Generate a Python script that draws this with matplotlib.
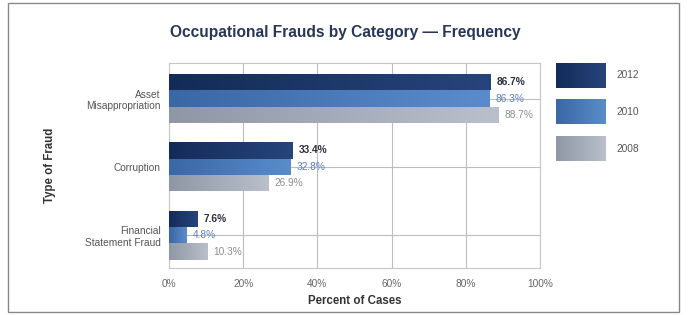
import matplotlib
matplotlib.use('Agg')
from matplotlib import pyplot as plt
from matplotlib.patches import Rectangle
from matplotlib.colors import LinearSegmentedColormap
import numpy as np

# data
categories = ['Asset\nMisappropriation', 'Corruption', 'Financial\nStatement Fraud']
years = ['2012', '2010', '2008']
vals_2012 = [86.7, 33.4, 7.6]
vals_2010 = [86.3, 32.8, 4.8]
vals_2008 = [88.7, 26.9, 10.3]
xticks = [0, 20, 40, 60, 80, 100]

series = [vals_2012, vals_2010, vals_2008]
# left / right colours of the gradient fill
grad_colors = [('#142b58', '#26457c'), ('#3a67a6', '#5a8ccb'), ('#8f97a6', '#b9c0cb')]
bar_colors = ['#1c3768', '#4a79b6', '#a2aab7']
text_colors = ['#2a2f3f', '#5a7cbc', '#8c8c8c']
text_weights = ['bold', 'normal', 'normal']

plt.rcParams['font.family'] = ['Liberation Sans', 'DejaVu Sans']

fig = plt.figure(figsize=(6.89, 3.15), dpi=100)
ax = fig.add_axes([169/689, 1-268/315, 371/689, 205/315])

h = 0.24
y = np.arange(len(categories))
grad = np.linspace(0, 1, 256).reshape(1, -1)
for i, vals in enumerate(series):
    yy = y + (i - 1) * h
    bars = ax.barh(yy, vals, height=h, color=bar_colors[i], zorder=3)
    cmap = LinearSegmentedColormap.from_list('g%d' % i, grad_colors[i])
    for b in bars:
        x0, y0 = b.get_x(), b.get_y()
        im = ax.imshow(grad, cmap=cmap, aspect='auto', zorder=3.5,
                       extent=(x0, x0 + b.get_width(), y0 + b.get_height(), y0))
        im.set_clip_path(b)
    for yv, v in zip(yy, vals):
        ax.text(v + 1.6, yv, f'{v}%', va='center', ha='left', fontsize=7.3,
                color=text_colors[i], fontweight=text_weights[i], zorder=4)

ax.set_aspect('auto')
ax.set_xlim(0, 100)
ax.set_ylim(2.48, -0.52)
ax.set_xticks(xticks)
ax.set_xticklabels([f'{t}%' for t in xticks], fontsize=7.3, color='#666666')
ax.set_yticks(y)
ax.set_yticklabels(categories, fontsize=7.3, color='#555555', multialignment='right')
ax.tick_params(length=0, pad=6)
ax.tick_params(axis='x', pad=8)
ax.grid(True, color='#bdbdbd', linewidth=0.8, zorder=0)
for s in ax.spines.values():
    s.set_color('#c6c6c6')
    s.set_linewidth(0.8)

ax.set_xlabel('Percent of Cases', fontsize=8.3, fontweight='bold', color='#333333', labelpad=4)
fig.text(50/689, 1-165/315, 'Type of Fraud', rotation=90, fontsize=8.3, fontweight='bold',
         color='#333333', ha='center', va='center')
fig.text(345/689, 1-32/315, 'Occupational Frauds by Category \u2014 Frequency', fontsize=11.2,
         fontweight='bold', color='#27375a', ha='center', va='center')

# legend boxes
leg_y = [63, 99, 136]
for yr, gc, ly in zip(years, grad_colors, leg_y):
    cmap = LinearSegmentedColormap.from_list('leg' + yr, gc)
    lax = fig.add_axes([556/689, 1-(ly+25)/315, 50/689, 25/315])
    lax.imshow(grad, cmap=cmap, aspect='auto')
    lax.axis('off')
    fig.text(616/689, 1-(ly+12.5)/315, yr, fontsize=7.3, color='#555555', va='center', ha='left')

# outer frame
fig.add_artist(Rectangle((8/689, 1-312/315), 671/689, 309/315, transform=fig.transFigure,
                         fill=False, edgecolor='#888888', linewidth=1))

fig.savefig('out.png', dpi=100)
